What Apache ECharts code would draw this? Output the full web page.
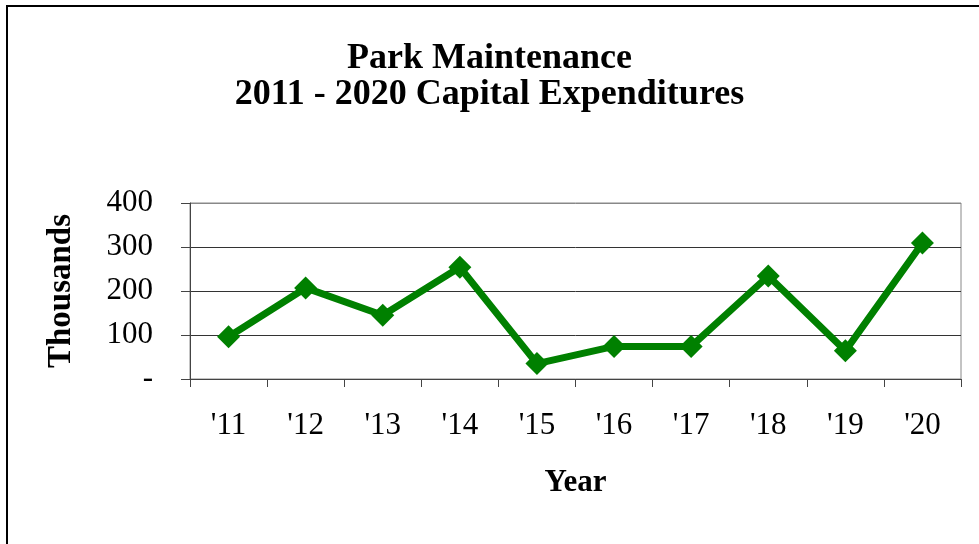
<!DOCTYPE html>
<html>
<head>
<meta charset="utf-8">
<script src="https://cdn.jsdelivr.net/npm/echarts@6/dist/echarts.min.js"></script>
<style>
  html, body { margin: 0; padding: 0; background: #fff; }
  #chart { width: 979px; height: 544px; }
</style>
</head>
<body>
<div id="chart"></div>
<script>
// 数据
var years = ["'11", "'12", "'13", "'14", "'15", "'16", "'17", "'18", "'19", "'20"];
var spending = [96, 207, 145, 254, 35, 74, 74, 234, 64, 309];
var yTicks = [0, 100, 200, 300, 400];

var chart = echarts.init(document.getElementById('chart'));
var serif = 'Liberation Serif, Times New Roman, serif';

chart.setOption({
    backgroundColor: '#fff',
    animation: false,
    title: {
        text: 'Park Maintenance\n2011 - 2020 Capital Expenditures',
        left: 'center',
        top: 36,
        textStyle: {
            fontFamily: serif,
            fontWeight: 'bold',
            fontSize: 36,
            lineHeight: 36,
            color: '#000'
        }
    },
    // 外框
    graphic: [{
        type: 'rect',
        shape: { x: 7, y: 6, width: 1100, height: 700 },
        style: { fill: 'none', stroke: '#000', lineWidth: 2 },
        silent: true
    }],
    grid: {
        left: 190,
        right: 18,
        top: 203,
        bottom: 165,
        show: true,
        borderColor: '#888',
        borderWidth: 1
    },
    xAxis: {
        type: 'category',
        data: years,
        boundaryGap: true,
        name: 'Year',
        nameLocation: 'middle',
        nameGap: 88,
        nameTextStyle: { fontFamily: serif, fontWeight: 'bold', fontSize: 31, color: '#000' },
        axisLine: { show: true, lineStyle: { color: '#444', width: 1 } },
        axisTick: { show: true, length: 8, lineStyle: { color: '#444' } },
        axisLabel: { fontFamily: serif, fontSize: 31, color: '#000', margin: 31 },
        splitLine: { show: false }
    },
    yAxis: {
        type: 'value',
        min: yTicks[0],
        max: yTicks[yTicks.length - 1],
        interval: 100,
        name: 'Thousands',
        nameLocation: 'middle',
        nameGap: 112,
        nameRotate: 90,
        nameTextStyle: { fontFamily: serif, fontWeight: 'bold', fontSize: 33, color: '#000' },
        axisLine: { show: true, lineStyle: { color: '#444', width: 1 } },
        axisTick: { show: true, length: 9, lineStyle: { color: '#444' } },
        axisLabel: {
            fontFamily: serif, fontSize: 31, color: '#000', margin: 37,
            formatter: function (v) { return v === 0 ? '-' : String(v); }
        },
        splitLine: { show: true, lineStyle: { color: ['#333', '#333', '#333', '#333', '#888'], width: 1 } }
    },
    series: [{
        type: 'line',
        data: spending,
        symbol: 'diamond',
        symbolSize: [23, 23],
        itemStyle: { color: '#008000' },
        lineStyle: { color: '#008000', width: 7 }
    }]
});
</script>
</body>
</html>
